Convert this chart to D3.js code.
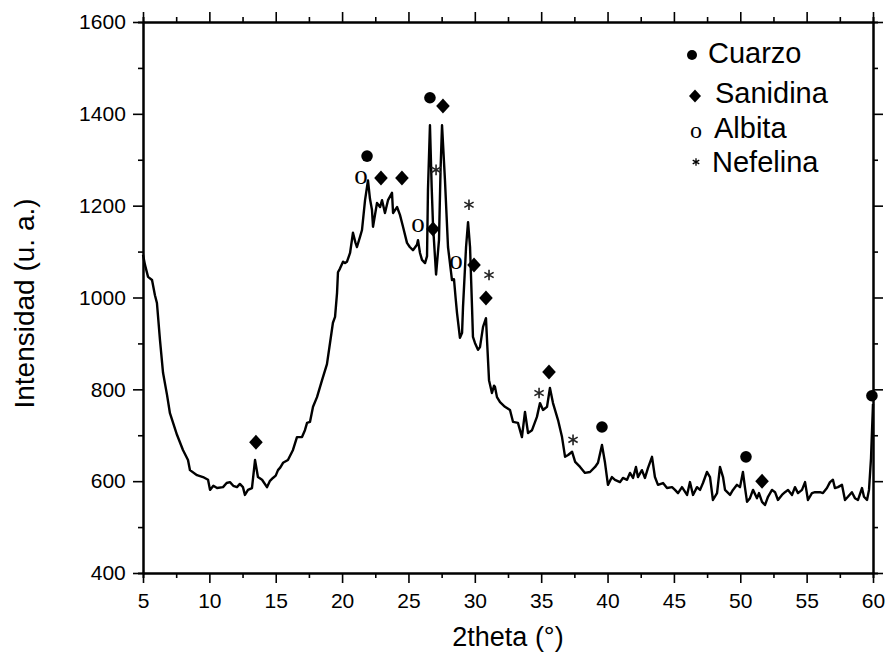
<!DOCTYPE html>
<html>
<head>
<meta charset="utf-8">
<script src="https://d3js.org/d3.v7.min.js"></script>
<style>
  body { margin: 0; background: #fff; }
  svg text { font-family: "Liberation Sans", Arial, sans-serif; fill: #000; }
  .axis path, .axis line { stroke: #000; }
  .axis path { stroke-width: 2; }
  .axis line { stroke-width: 1.6; }
</style>
</head>
<body>
<div id="chart"></div>
<script>
// diffractogram: 2theta (deg) and intensity (u. a.)
const twoTheta = [
  5.00, 5.15, 5.38, 5.68, 5.90, 6.05, 6.28, 6.51, 6.81, 7.03, 7.56, 8.01, 8.39, 8.54, 9.07, 9.52, 9.90,
  10.05, 10.30, 10.58, 11.03, 11.30, 11.55, 11.80, 12.08, 12.30, 12.53, 12.68, 12.91, 13.21, 13.44, 13.66, 13.97,
  14.34, 14.55, 14.79, 15.00, 15.17, 15.35, 15.55, 15.92, 16.30, 16.60, 16.98, 17.20, 17.36, 17.58, 17.81,
  18.11, 18.49, 18.86, 19.09, 19.31, 19.47, 19.62, 19.69, 19.84, 20.07, 20.22, 20.37, 20.60, 20.82, 21.00,
  21.12, 21.35, 21.50, 21.73, 21.95, 22.10, 22.25, 22.33, 22.63, 22.86, 23.01, 23.23, 23.46, 23.76, 23.84,
  24.14, 24.36, 24.59, 24.89, 25.10, 25.34, 25.64, 25.72, 25.87, 26.02, 26.25, 26.40, 26.47, 26.62, 26.75,
  26.85, 27.08, 27.30, 27.42, 27.53, 27.75, 27.98, 28.28, 28.43, 28.55, 28.66, 28.88, 29.04, 29.11, 29.34,
  29.49, 29.64, 29.79, 29.86, 30.01, 30.24, 30.39, 30.62, 30.84, 30.92, 31.07, 31.29, 31.45, 31.52, 31.67,
  31.90, 32.27, 32.65, 32.88, 33.25, 33.55, 33.78, 34.01, 34.31, 34.68, 34.91, 35.14, 35.44, 35.66, 35.89,
  36.27, 36.57, 36.80, 37.03, 37.33, 37.56, 37.93, 38.30, 38.68, 39.06, 39.28, 39.58, 39.81, 40.03, 40.33,
  40.56, 40.94, 41.16, 41.47, 41.69, 41.92, 42.14, 42.29, 42.59, 42.82, 43.05, 43.35, 43.57, 43.80, 44.18,
  44.48, 44.86, 45.08, 45.31, 45.61, 45.99, 46.21, 46.44, 46.74, 46.97, 47.19, 47.49, 47.72, 47.94, 48.25,
  48.47, 48.70, 48.85, 49.23, 49.45, 49.75, 49.98, 50.20, 50.35, 50.51, 50.73, 50.96, 51.26, 51.41, 51.64,
  51.86, 52.09, 52.39, 52.62, 52.84, 53.14, 53.37, 53.60, 53.90, 54.12, 54.35, 54.65, 54.88, 55.10, 55.40,
  55.63, 56.00, 56.23, 56.53, 56.76, 56.98, 57.13, 57.36, 57.66, 57.89, 58.11, 58.41, 58.64, 58.87, 59.17,
  59.32, 59.55, 59.70, 59.85, 60.00
];
const intensity = [
  1093, 1071, 1045, 1038, 1005, 988, 907, 836, 788, 748, 701, 668, 646, 624, 613, 609, 603,
  581, 590, 585, 587, 596, 598, 590, 587, 594, 587, 570, 581, 585, 646, 609, 603,
  587, 600, 607, 612, 624, 630, 640, 646, 668, 696, 696, 711, 727, 729, 762,
  783, 820, 855, 901, 945, 958, 1010, 1055, 1063, 1078, 1075, 1078, 1097, 1141, 1120,
  1110, 1132, 1147, 1212, 1255, 1215, 1191, 1154, 1206, 1197, 1212, 1184, 1212, 1228, 1184,
  1197, 1180, 1154, 1119, 1110, 1103, 1115, 1125, 1097, 1082, 1075, 1090, 1234, 1375, 1240,
  1158, 1050, 1125, 1280, 1375, 1256, 1110, 1038, 1040, 1000, 966, 912, 923, 979, 1110,
  1164, 1110, 979, 914, 901, 886, 892, 936, 955, 907, 820, 792, 808, 805, 783,
  772, 762, 755, 729, 727, 696, 751, 705, 711, 740, 770, 755, 762, 803, 770,
  733, 696, 653, 657, 664, 642, 631, 618, 620, 631, 640, 679, 640, 592, 609,
  603, 598, 607, 603, 618, 607, 631, 609, 624, 607, 629, 653, 609, 592, 596,
  585, 587, 581, 574, 587, 570, 598, 570, 587, 581, 596, 620, 609, 559, 574,
  631, 609, 581, 570, 581, 592, 587, 620, 587, 555, 563, 581, 563, 574, 555,
  548, 566, 581, 576, 559, 570, 576, 581, 570, 587, 574, 581, 598, 559, 574,
  576, 576, 574, 585, 598, 603, 585, 587, 592, 559, 566, 576, 563, 559, 585,
  566, 559, 581, 650, 768
];

// phase markers [2theta, intensity where the symbol sits]
const cuarzoPeaks = [[21.88, 1308], [26.62, 1435], [39.58, 718], [50.43, 653], [59.92, 786]];
const sanidinaPeaks = [[13.51, 685], [22.93, 1260], [24.51, 1260], [27.60, 1417], [26.85, 1149],
  [29.94, 1071], [30.84, 999], [35.59, 838], [51.64, 600]];
const albitaPeaks = [[21.42, 1260], [25.72, 1156], [28.58, 1075]];
const nefelinaPeaks = [[27.08, 1278], [29.56, 1202], [31.07, 1049], [34.84, 792], [37.40, 690]];

const legendNames = ["Cuarzo", "Sanidina", "Albita", "Nefelina"];
const xTicks = d3.range(5, 61, 5);
const yTicks = d3.range(400, 1601, 200);

const width = 888;
const height = 662;
const margin = { top: 22, right: 15, bottom: 89, left: 143 };
const innerW = width - margin.left - margin.right;
const innerH = height - margin.top - margin.bottom;

const svg = d3.select("#chart").append("svg")
  .attr("width", width)
  .attr("height", height);

const g = svg.append("g").attr("transform", `translate(${margin.left},${margin.top})`);

const x = d3.scaleLinear().domain([5, 60]).range([0, innerW]);
const y = d3.scaleLinear().domain([400, 1600]).range([innerH, 0]);

const xMinor = d3.range(7.5, 60, 5);
const yMinor = d3.range(500, 1600, 200);

function drawAxis(axisFn, scale, major, minor, transform, labels) {
  const a = g.append("g").attr("class", "axis").attr("transform", transform);
  a.call(axisFn(scale).tickValues(minor).tickSize(5).tickFormat(""));
  a.selectAll("text").remove();
  const b = g.append("g").attr("class", "axis").attr("transform", transform);
  b.call(axisFn(scale).tickValues(major).tickSize(10).tickSizeOuter(0)
    .tickFormat(labels ? d3.format("d") : ""));
  return b;
}

const bottom = drawAxis(d3.axisBottom, x, xTicks, xMinor, `translate(0,${innerH})`, true);
bottom.selectAll("text").attr("font-size", 21).attr("dy", "1.05em");
drawAxis(d3.axisTop, x, xTicks, xMinor, "translate(0,0)", false);
const left = drawAxis(d3.axisLeft, y, yTicks, yMinor, "translate(0,0)", true);
left.selectAll("text").attr("font-size", 21).attr("dx", "-0.2em");
drawAxis(d3.axisRight, y, yTicks, yMinor, `translate(${innerW},0)`, false);

// axis titles
svg.append("text")
  .attr("x", margin.left + innerW / 2)
  .attr("y", 646)
  .attr("text-anchor", "middle")
  .attr("font-size", 27)
  .text("2theta (°)");

svg.append("text")
  .attr("transform", `translate(34,${margin.top + innerH / 2 + 6}) rotate(-90)`)
  .attr("text-anchor", "middle")
  .attr("font-size", 28)
  .text("Intensidad (u. a.)");

// pattern
const line = d3.line()
  .x((d, i) => x(twoTheta[i]))
  .y((d) => y(d));

g.append("path")
  .datum(intensity)
  .attr("fill", "none")
  .attr("stroke", "#000")
  .attr("stroke-width", 2.4)
  .attr("stroke-linejoin", "round")
  .attr("d", line);

// phase symbols
const diamond = "M0,-7.5L6.8,0L0,7.5L-6.8,0Z";
const asterisk = d3.symbol(d3.symbolAsterisk, 80);
const serif = "'Liberation Serif', 'Times New Roman', serif";

g.selectAll(".cuarzo")
  .data(cuarzoPeaks)
  .enter()
  .append("circle")
  .attr("cx", (d) => x(d[0]))
  .attr("cy", (d) => y(d[1]))
  .attr("r", 5.8)
  .attr("fill", "#000");

g.selectAll(".sanidina")
  .data(sanidinaPeaks)
  .enter()
  .append("path")
  .attr("d", diamond)
  .attr("transform", (d) => `translate(${x(d[0])},${y(d[1])})`)
  .attr("fill", "#000");

g.selectAll(".albita")
  .data(albitaPeaks)
  .enter()
  .append("text")
  .attr("x", (d) => x(d[0]))
  .attr("y", (d) => y(d[1]) + 6)
  .attr("text-anchor", "middle")
  .style("font-family", serif)
  .attr("font-size", 27)
  .text("o");

g.selectAll(".nefelina")
  .data(nefelinaPeaks)
  .enter()
  .append("path")
  .attr("d", asterisk)
  .attr("transform", (d) => `translate(${x(d[0])},${y(d[1])})`)
  .attr("fill", "none")
  .attr("stroke", "#222")
  .attr("stroke-width", 1.6);

// legend
const legend = svg.append("g").attr("transform", "translate(692,0)");
const rowY = [63, 103, 138, 172];

legend.append("circle").attr("cx", 0).attr("cy", rowY[0] - 8).attr("r", 5).attr("fill", "#000");
legend.append("path").attr("d", "M0,-6.5L6,0L0,6.5L-6,0Z")
  .attr("transform", `translate(3,${rowY[1] - 7})`).attr("fill", "#000");
legend.append("text").attr("x", 4).attr("y", rowY[2]).attr("text-anchor", "middle")
  .style("font-family", serif)
  .attr("font-size", 24).text("o");
legend.append("path").attr("d", d3.symbol(d3.symbolAsterisk, 40))
  .attr("transform", `translate(4,${rowY[3] - 10})`)
  .attr("fill", "none").attr("stroke", "#000").attr("stroke-width", 1.3);

legend.selectAll(".lbl")
  .data(legendNames)
  .enter()
  .append("text")
  .attr("x", (d, i) => [16, 23, 22, 20][i])
  .attr("y", (d, i) => rowY[i])
  .attr("font-size", 29)
  .text((d) => d);
</script>
</body>
</html>
